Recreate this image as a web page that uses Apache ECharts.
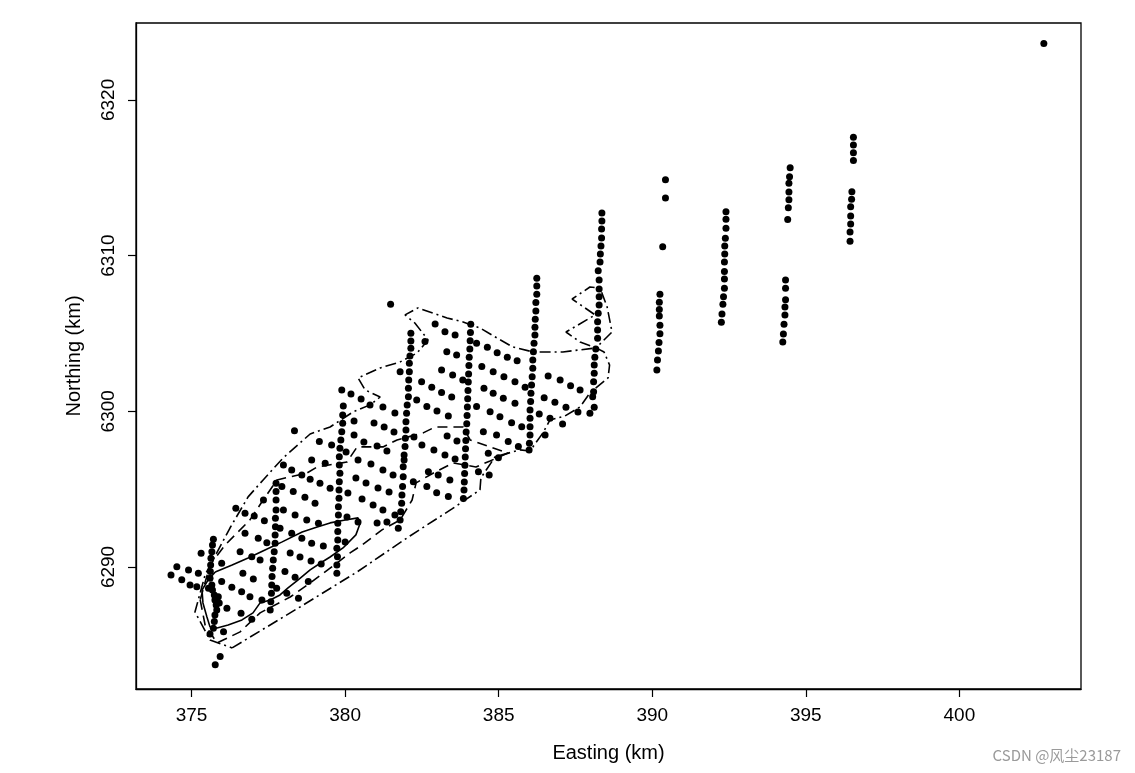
<!DOCTYPE html>
<html>
<head>
<meta charset="utf-8">
<script src="https://cdn.jsdelivr.net/npm/echarts@6/dist/echarts.min.js"></script>
<style>
  html, body { margin: 0; padding: 0; background: #fff; }
  #chart { width: 1135px; height: 773px; }
</style>
</head>
<body>
<div id="chart"></div>
<script>
// tick labels
var xTicks = [375, 380, 385, 390, 395, 400];
var yTicks = [6290, 6300, 6310, 6320];

// north-south survey transects (Easting, Northing in km)
var transectA = [[375.71,6291.78],[375.68,6291.41],[375.66,6290.98],[375.63,6290.56],[375.62,6290.13],[375.61,6289.70],[375.60,6289.27],[375.66,6288.84],[375.68,6288.52],[375.74,6288.20],[375.76,6287.88],[375.80,6287.56],[375.82,6287.24],[375.76,6286.92],[375.74,6286.49],[375.71,6286.06],[375.60,6285.70],[375.55,6288.63],[375.87,6288.09],[375.90,6287.69]];
var transectB = [[377.75,6295.38],[377.75,6294.84],[377.75,6294.30],[377.75,6293.66],[377.73,6293.13],[377.73,6292.59],[377.72,6292.06],[377.72,6291.52],[377.69,6290.98],[377.66,6290.45],[377.64,6289.92],[377.62,6289.38],[377.61,6288.84],[377.60,6288.31],[377.58,6287.77],[377.56,6287.24]];
var transectC = [[379.89,6301.37],[379.94,6300.34],[379.92,6299.76],[379.92,6299.23],[379.89,6298.69],[379.86,6298.16],[379.83,6297.62],[379.81,6297.08],[379.81,6296.55],[379.83,6296.02],[379.81,6295.48],[379.80,6294.95],[379.80,6294.41],[379.78,6293.87],[379.78,6293.34],[379.76,6292.81],[379.76,6292.27],[379.76,6291.73],[379.73,6291.20],[379.75,6290.66],[379.73,6290.13],[379.73,6289.60]];
var transectD = [[382.14,6305.01],[382.14,6304.52],[382.14,6304.05],[382.11,6303.55],[382.09,6303.08],[382.09,6302.54],[382.07,6302.01],[382.06,6301.48],[382.06,6300.94],[382.02,6300.41],[382.00,6299.87],[381.98,6299.33],[381.98,6298.80],[381.96,6298.27],[381.95,6297.73],[381.92,6297.19],[381.92,6296.87],[381.89,6296.44],[381.89,6295.80],[381.87,6295.16],[381.85,6294.62],[381.84,6294.09],[381.81,6293.55],[381.79,6293.02],[381.73,6292.49]];
var transectE = [[384.09,6305.59],[384.08,6305.06],[384.07,6304.53],[384.06,6304.00],[384.04,6303.47],[384.03,6302.94],[384.02,6302.40],[384.01,6301.88],[384.00,6301.34],[383.99,6300.80],[383.98,6300.28],[383.97,6299.73],[383.96,6299.20],[383.94,6298.67],[383.93,6298.13],[383.92,6297.60],[383.91,6297.07],[383.90,6296.53],[383.89,6296.00],[383.88,6295.46],[383.87,6294.95],[383.85,6294.40]];
var transectF = [[386.24,6308.54],[386.24,6308.05],[386.24,6307.52],[386.21,6306.98],[386.21,6306.44],[386.19,6305.91],[386.18,6305.40],[386.18,6304.90],[386.15,6304.37],[386.13,6303.83],[386.11,6303.30],[386.11,6302.76],[386.09,6302.22],[386.07,6301.69],[386.05,6301.16],[386.04,6300.62],[386.02,6300.08],[386.02,6299.55],[386.02,6299.01],[386.02,6298.48],[386.00,6297.95],[385.99,6297.51]];
var transectG = [[388.36,6312.74],[388.36,6312.22],[388.35,6311.71],[388.35,6311.13],[388.33,6310.62],[388.31,6310.10],[388.30,6309.59],[388.24,6309.03],[388.27,6308.43],[388.27,6307.85],[388.27,6307.36],[388.27,6306.83],[388.24,6306.29],[388.22,6305.75],[388.22,6305.22],[388.22,6304.69],[388.16,6304.00],[388.13,6303.47],[388.11,6302.97],[388.11,6302.44],[388.09,6301.90],[388.09,6301.26],[388.06,6300.94],[388.11,6300.26],[387.97,6299.87]];
var transectH = [[390.43,6314.87],[390.43,6313.70],[390.34,6310.57],[390.25,6307.51],[390.23,6307.00],[390.23,6306.53],[390.23,6306.12],[390.25,6305.52],[390.25,6304.98],[390.22,6304.41],[390.20,6303.87],[390.17,6303.29],[390.15,6302.65]];
var transectI = [[392.40,6312.82],[392.40,6312.33],[392.40,6311.75],[392.38,6311.11],[392.36,6310.62],[392.36,6310.10],[392.35,6309.59],[392.35,6308.97],[392.35,6308.50],[392.35,6307.90],[392.32,6307.36],[392.30,6306.87],[392.27,6306.25],[392.25,6305.72]];
var transectJ = [[394.49,6315.65],[394.47,6315.07],[394.45,6314.64],[394.45,6314.08],[394.45,6313.59],[394.43,6313.08],[394.41,6312.32],[394.34,6308.43],[394.34,6307.90],[394.34,6307.17],[394.32,6306.70],[394.32,6306.18],[394.29,6305.59],[394.27,6304.96],[394.25,6304.45]];
var transectK = [[396.55,6317.60],[396.55,6317.10],[396.55,6316.61],[396.55,6316.10],[396.50,6314.10],[396.49,6313.62],[396.46,6313.14],[396.46,6312.54],[396.46,6312.03],[396.44,6311.52],[396.44,6310.92]];

// diagonal grid stations between the transects
var gridPoints = [
  [376.44,6293.77],[376.74,6293.45],[377.04,6293.28],[377.37,6292.97],[377.34,6294.30],
  [376.74,6292.16],[377.17,6291.84],[377.45,6291.56],[375.31,6290.88],[376.58,6290.98],
  [376.96,6290.66],[377.23,6290.45],[374.52,6290.02],[374.33,6289.49],[374.90,6289.81],
  [375.22,6289.60],[374.68,6289.17],[374.95,6288.84],[375.17,6288.73],[375.98,6289.06],
  [376.31,6288.70],[376.67,6289.60],[377.01,6289.23],[376.63,6288.41],[376.90,6288.09],
  [377.29,6287.88],[376.15,6287.35],[376.61,6287.03],[376.96,6286.64],[376.04,6285.84],
  [375.98,6290.24],
  [377.88,6292.49],[378.26,6292.16],[378.59,6291.84],[378.91,6291.52],[379.29,6291.35],
  [378.21,6290.90],[378.53,6290.64],[378.89,6290.39],[379.22,6290.19],[378.04,6289.70],
  [378.37,6289.34],[378.80,6289.06],[377.77,6288.63],[378.10,6288.31],[378.48,6287.99],
  [377.99,6293.66],[378.37,6293.34],[378.75,6293.02],[379.13,6292.81],[377.94,6295.16],
  [378.31,6294.84],[378.69,6294.48],[379.02,6294.09],[377.99,6296.55],[378.26,6296.23],
  [378.59,6295.91],[378.86,6295.63],[379.18,6295.38],[379.51,6295.06],[378.91,6296.87],
  [379.35,6296.66],[379.16,6298.05],[379.56,6297.84],[378.35,6298.75],
  [380.19,6301.11],[380.52,6300.79],[380.81,6300.41],[381.23,6300.28],[381.62,6299.89],
  [380.29,6299.38],[380.94,6299.25],[381.27,6298.99],[381.59,6298.67],[380.29,6298.48],
  [380.61,6298.03],[381.04,6297.77],[381.36,6297.45],[380.03,6297.39],[380.42,6296.87],
  [380.84,6296.62],[381.23,6296.23],[381.56,6295.91],[380.35,6295.72],[380.68,6295.40],
  [381.07,6295.07],[381.43,6294.82],[380.09,6294.75],[380.55,6294.37],[380.91,6293.98],
  [381.23,6293.66],[381.62,6293.34],[380.06,6293.21],[380.42,6292.89],[381.04,6292.83],
  [381.36,6292.89],[380.00,6291.61],
  [382.93,6305.61],[383.25,6305.11],[383.58,6304.90],[382.60,6304.48],[383.31,6303.83],
  [383.63,6303.62],[383.14,6302.65],[383.50,6302.33],[383.83,6302.01],[382.49,6301.90],
  [382.82,6301.54],[383.14,6301.20],[383.47,6300.92],[382.33,6300.73],[382.66,6300.30],
  [382.99,6300.02],[383.36,6299.70],[382.24,6298.35],[382.50,6297.84],[382.89,6297.52],
  [383.25,6297.19],[383.58,6296.94],[383.32,6298.41],[383.64,6298.09],[382.71,6296.12],
  [383.03,6295.91],[383.41,6295.59],[382.22,6295.48],[382.66,6295.16],[382.98,6294.77],
  [383.36,6294.52],[381.79,6302.54],
  [384.28,6304.37],[384.63,6304.11],[384.95,6303.76],[385.28,6303.47],[385.60,6303.25],
  [384.45,6302.87],[384.82,6302.54],[385.17,6302.22],[385.53,6301.90],[385.86,6301.54],
  [384.52,6301.48],[384.82,6301.16],[385.15,6300.84],[385.53,6300.51],[384.28,6300.30],
  [384.72,6299.97],[385.04,6299.65],[385.42,6299.27],[385.75,6299.01],[384.50,6298.69],
  [384.93,6298.48],[385.31,6298.05],[385.64,6297.73],[384.66,6297.30],[384.99,6297.02],
  [384.34,6296.12],[384.69,6295.91],
  [386.61,6302.27],[387.00,6302.01],[387.34,6301.64],[387.65,6301.37],[386.48,6300.87],
  [386.83,6300.58],[387.19,6300.26],[387.58,6299.96],[386.32,6299.83],[386.67,6299.55],
  [387.08,6299.18],[386.51,6298.48]
];

// isolated stations
var loosePoints = [[375.93,6284.24],[375.77,6283.71],[381.48,6306.87],[402.75,6323.63]];

// depth contours
var contourOuter = [[376.32,6284.80],[378.53,6287.43],[380.39,6289.68],[382.11,6291.99],[383.48,6293.73],[384.39,6294.95],[384.42,6295.72],[384.88,6297.07],[385.69,6297.52],[386.02,6297.45],[386.44,6298.61],[386.67,6299.44],[387.16,6299.70],[387.65,6300.28],[387.97,6301.18],[388.56,6302.14],[388.61,6302.97],[388.43,6303.81],[388.17,6304.07],[388.69,6305.09],[388.53,6306.70],[388.30,6307.92],[387.97,6307.98],[387.39,6307.21],[388.14,6306.19],[387.19,6305.09],[387.65,6304.45],[388.17,6304.07],[387.09,6303.81],[386.12,6303.81],[385.46,6304.13],[384.94,6304.71],[384.39,6305.35],[383.84,6305.74],[383.32,6305.99],[382.37,6306.64],[381.95,6306.19],[382.27,6305.67],[382.70,6304.58],[382.34,6303.74],[381.79,6303.17],[381.14,6302.78],[380.42,6302.14],[380.65,6301.37],[381.14,6300.92],[380.81,6300.41],[380.26,6299.96],[379.51,6298.99],[378.86,6298.54],[377.98,6297.00],[377.33,6295.59],[376.84,6294.50],[376.25,6292.50],[375.99,6291.54],[375.44,6289.49],[375.11,6287.11],[375.60,6285.31],[376.32,6284.80]];
var contourMiddle = [[375.28,6287.88],[375.44,6286.27],[375.83,6285.12],[376.58,6285.83],[377.23,6287.05],[378.21,6288.07],[378.86,6288.97],[379.74,6290.26],[380.16,6290.90],[380.55,6291.41],[381.20,6292.38],[381.79,6293.02],[382.18,6294.30],[382.31,6295.40],[382.76,6295.91],[383.51,6296.68],[384.26,6296.42],[384.72,6296.81],[385.30,6297.32],[384.07,6298.16],[383.84,6298.99],[382.93,6298.99],[382.54,6298.61],[381.69,6298.16],[381.23,6297.71],[380.39,6297.71],[380.06,6296.74],[379.09,6296.42],[378.76,6296.04],[377.78,6295.59],[377.33,6294.30],[376.90,6293.02],[376.09,6291.41],[375.60,6290.13],[375.28,6287.88]];
var contourInner = [[375.77,6289.68],[376.32,6290.13],[376.84,6290.58],[377.39,6291.09],[377.95,6291.61],[378.60,6292.25],[379.09,6292.57],[379.51,6292.83],[380.00,6293.02],[380.42,6293.15],[380.48,6292.76],[380.35,6292.06],[379.93,6291.22],[379.51,6290.64],[379.25,6290.32],[378.86,6289.81],[378.47,6289.17],[378.14,6288.65],[377.88,6288.20],[377.56,6287.88],[377.23,6287.69],[377.00,6287.05],[376.64,6286.60],[376.19,6286.27],[375.83,6286.08],[375.60,6286.15],[375.50,6286.79],[375.37,6287.69],[375.34,6288.52],[375.54,6289.17],[375.77,6289.68]];

var stations = [].concat(transectA, transectB, transectC, transectD, transectE, transectF,
  transectG, transectH, transectI, transectJ, transectK, gridPoints, loosePoints);

var chart = echarts.init(document.getElementById('chart'));
var font = '"Liberation Sans", Arial, Helvetica, sans-serif';

chart.setOption({
  animation: false,
  backgroundColor: '#fff',
  grid: {
    left: 136, right: 54, top: 23, bottom: 84,
    show: true, borderColor: '#000', borderWidth: 1.3, backgroundColor: 'transparent'
  },
  xAxis: {
    type: 'value',
    min: 373.19, max: 403.96,
    name: 'Easting (km)',
    nameLocation: 'middle',
    nameGap: 54,
    nameTextStyle: { fontFamily: font, fontSize: 20, color: '#000' },
    axisLine: { show: true, lineStyle: { color: '#000', width: 1.3 } },
    axisTick: { show: true, length: 8, customValues: xTicks, lineStyle: { color: '#000', width: 1.2 } },
    axisLabel: {
      customValues: xTicks, fontFamily: font, fontSize: 19, color: '#000', margin: 17,
      formatter: function (v) { return String(v); }
    },
    splitLine: { show: false }
  },
  yAxis: {
    type: 'value',
    min: 6282.16, max: 6324.94,
    name: 'Northing (km)',
    nameLocation: 'middle',
    nameGap: 52,
    nameRotate: 90,
    nameTextStyle: { fontFamily: font, fontSize: 20, color: '#000' },
    axisLine: { show: true, lineStyle: { color: '#000', width: 1.3 } },
    axisTick: { show: true, length: 8, customValues: yTicks, lineStyle: { color: '#000', width: 1.2 } },
    axisLabel: {
      customValues: yTicks, rotate: 90, fontFamily: font, fontSize: 19, color: '#000', margin: 18,
      formatter: function (v) { return String(v); }
    },
    splitLine: { show: false }
  },
  series: [
    {
      name: 'outer',
      type: 'line',
      data: contourOuter,
      showSymbol: false,
      lineStyle: { color: '#000', width: 1.6, type: [11, 4, 2, 4] }
    },
    {
      name: 'middle',
      type: 'line',
      data: contourMiddle,
      showSymbol: false,
      lineStyle: { color: '#000', width: 1.6, type: [10, 6] }
    },
    {
      name: 'inner',
      type: 'line',
      data: contourInner,
      showSymbol: false,
      lineStyle: { color: '#000', width: 1.6, type: 'solid' }
    },
    {
      name: 'stations',
      type: 'scatter',
      data: stations,
      symbol: 'circle',
      symbolSize: 7,
      itemStyle: { color: '#000', opacity: 1 }
    }
  ],
  graphic: [{
    type: 'text',
    right: 14,
    bottom: 10,
    style: {
      text: 'CSDN @风尘23187',
      fill: '#9a9a9a',
      font: '15px "Noto Sans CJK SC", "Liberation Sans", sans-serif'
    }
  }]
});
</script>
</body>
</html>
